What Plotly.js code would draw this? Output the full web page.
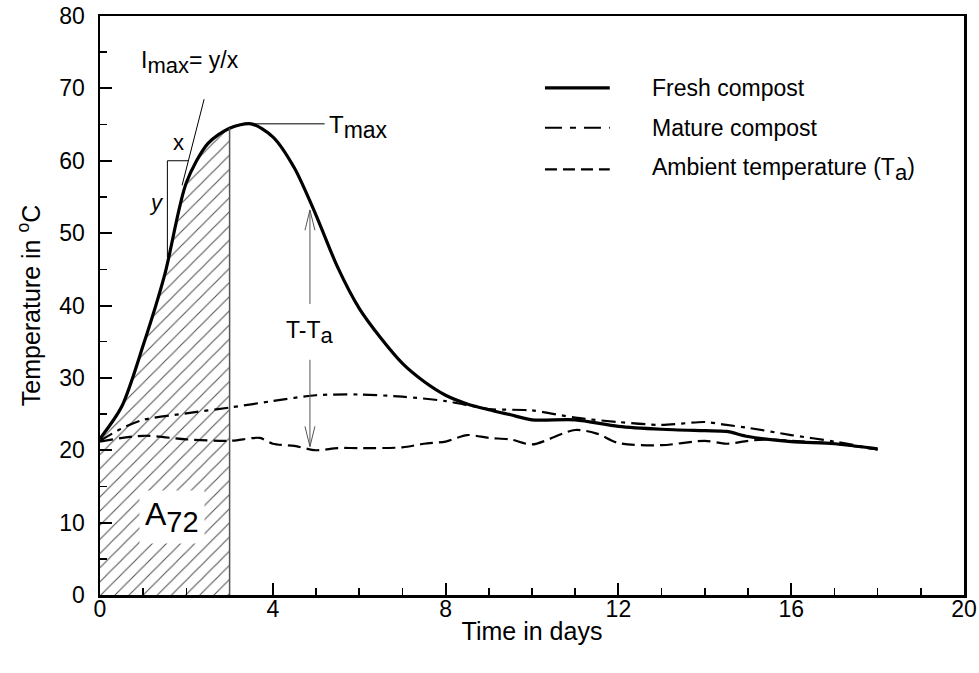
<!DOCTYPE html>
<html>
<head>
<meta charset="utf-8">
<script src="https://cdn.plot.ly/plotly-3.0.1.min.js"></script>
<style>html,body{margin:0;padding:0;background:#fff;}#chart{width:979px;height:673px;}</style>
</head>
<body>
<div id="chart"></div>
<script>
// Fresh compost
const daysFresh = [0,0.5,1,1.5,2,2.5,3,3.5,4,4.5,5,5.5,6,6.5,7,7.5,8,8.5,9,9.5,10,11,12,13,14,14.5,15,16,17,18];
const tempFresh = [21.6,26,34.5,44.3,57,62.4,64.5,65.1,63.3,59,52.5,45.3,39.6,35.5,32,29.5,27.6,26.4,25.6,24.9,24.2,24.2,23.3,22.9,22.7,22.6,21.9,21.2,20.9,20.2];
// Mature compost
const daysMature = [0,0.5,1,2,3,4,5,6,7,8,9,10,11,12,13,14,14.5,15,16,17,18];
const tempMature = [21.3,23,24.2,25.1,25.9,26.8,27.6,27.7,27.4,26.8,25.7,25.5,24.5,23.9,23.5,23.9,23.5,23.1,22.1,21.2,20.1];
// Ambient temperature
const daysAmbient = [0,1,2,3,3.7,4,4.5,5,5.5,6,7,7.5,8,8.5,9,9.5,10,11,11.5,12,13,14,14.5,15,15.5,16,17,18];
const tempAmbient = [21.2,22.0,21.5,21.3,21.7,20.9,20.6,20.0,20.3,20.3,20.4,20.9,21.2,22.1,21.7,21.5,20.8,22.8,22.3,21.0,20.7,21.3,20.9,21.3,21.5,21.3,20.9,20.1];

const sub = (t, px) => '<sub><span style="font-size:' + px + 'px">' + t + '</span></sub>';
const seriesNames = ['Fresh compost','Mature compost','Ambient temperature (T' + sub('a', 22) + ')'];
const xTickVals = [0,4,8,12,16,20];
const yTickVals = [0,10,20,30,40,50,60,70,80];

const areaEnd = 3; // A72 integration limit (days)
const areaX = [], areaY = [];
daysFresh.forEach((d,i)=>{ if (d <= areaEnd) { areaX.push(d); areaY.push(tempFresh[i]); } });
const tAtEnd = areaY[areaY.length-1];
const iMax = tempFresh.indexOf(Math.max(...tempFresh));
const tMax = tempFresh[iMax], dMax = daysFresh[iMax];

const FONT = 'Liberation Sans, Arial, sans-serif';

const traces = [
  {x: areaX, y: areaY, type:'scatter', mode:'lines', fill:'tozeroy',
   line:{width:0, shape:'spline', color:'rgba(0,0,0,0)'},
   fillcolor:'white',
   fillpattern:{shape:'/', fgcolor:'#555', bgcolor:'white', size:10, solidity:0.11},
   hoverinfo:'skip', showlegend:false},
  {x: daysMature, y: tempMature, type:'scatter', mode:'lines', name: seriesNames[1],
   line:{color:'black', width:2.2, dash:'14px,6px,4px,6px', shape:'spline', smoothing:0.8}, showlegend:false},
  {x: daysAmbient, y: tempAmbient, type:'scatter', mode:'lines', name: seriesNames[2],
   line:{color:'black', width:2.2, dash:'13px,6px', shape:'spline', smoothing:0.8}, showlegend:false},
  {x: daysFresh, y: tempFresh, type:'scatter', mode:'lines', name: seriesNames[0],
   line:{color:'black', width:3.2, shape:'spline', smoothing:0.8}, showlegend:false}
];

const gray = '#555';
const shapes = [
  {type:'line', xref:'x', yref:'y', x0:areaEnd, x1:areaEnd, y0:0, y1:tAtEnd, line:{color:gray, width:1.5}},
  {type:'line', xref:'x', yref:'y', x0:dMax, x1:5.2, y0:tMax, y1:tMax, line:{color:'black', width:1}},
  {type:'line', xref:'x', yref:'y', x0:1.9, x1:2.41, y0:56.6, y1:68.5, line:{color:'black', width:1}},
  {type:'path', xref:'x', yref:'y', path:'M1.56,46.7 L1.56,60 L2.04,60', line:{color:'black', width:1}},
  {type:'line', xref:'x', yref:'y', x0:4.86, x1:4.86, y0:40.2, y1:53.2, line:{color:gray, width:1}},
  {type:'path', xref:'x', yref:'y', path:'M4.745,50.4 L4.86,53.2 L4.975,50.4', line:{color:gray, width:1}},
  {type:'line', xref:'x', yref:'y', x0:4.86, x1:4.86, y0:32.5, y1:20.5, line:{color:gray, width:1}},
  {type:'path', xref:'x', yref:'y', path:'M4.745,23.3 L4.86,20.5 L4.975,23.3', line:{color:gray, width:1}},
  {type:'line', xref:'paper', yref:'paper', x0:0.515, x1:0.59, y0:0.876, y1:0.876, line:{color:'black', width:3.2}},
  {type:'line', xref:'paper', yref:'paper', x0:0.515, x1:0.59, y0:0.807, y1:0.807, line:{color:'black', width:2.2, dash:'17px,8px,6px,8px'}},
  {type:'line', xref:'paper', yref:'paper', x0:0.515, x1:0.59, y0:0.735, y1:0.735, line:{color:'black', width:2.2, dash:'12px,6px'}}
];

const annFont = {family: FONT, size: 22, color:'black'};
const legFont = {family: FONT, size: 23, color:'black'};
const annotations = [
  {x:1.67, y:10.8, xref:'x', yref:'y', text:'A' + sub('72', 29), showarrow:false, bgcolor:'white',
   font:{family:FONT, size:32, color:'black'}, borderpad:5},
  {x:1.82, y:62.5, xref:'x', yref:'y', text:'x', showarrow:false, font:annFont},
  {x:1.31, y:54.2, xref:'x', yref:'y', text:'<i>y</i>', showarrow:false, font:annFont},
  {x:0.9, y:73.6, xref:'x', yref:'y', text:'I' + sub('max', 22) + '= y/x', showarrow:false, xanchor:'left', yanchor:'middle', font:{family:FONT, size:23, color:'black'}},
  {x:5.25, y:64.6, xref:'x', yref:'y', text:'T' + sub('max', 23), showarrow:false, xanchor:'left', yanchor:'middle', font:{family:FONT, size:24, color:'black'}},
  {x:4.86, y:36.3, xref:'x', yref:'y', text:'T-T' + sub('a', 22), showarrow:false, yanchor:'middle', font:{family:FONT, size:23, color:'black'}},
  {x:0.637, y:0.876, xref:'paper', yref:'paper', text:seriesNames[0], showarrow:false, xanchor:'left', yanchor:'middle', font:legFont},
  {x:0.637, y:0.807, xref:'paper', yref:'paper', text:seriesNames[1], showarrow:false, xanchor:'left', yanchor:'middle', font:legFont},
  {x:0.637, y:0.735, xref:'paper', yref:'paper', text:seriesNames[2], showarrow:false, xanchor:'left', yanchor:'middle', font:legFont}
];

const layout = {
  width:979, height:673,
  margin:{l:100, r:15, t:16, b:78},
  paper_bgcolor:'white', plot_bgcolor:'white',
  font:{family:FONT, size:22, color:'black'},
  showlegend:false,
  xaxis:{range:[0,20], tickvals:xTickVals, ticktext:xTickVals.map(String),
    ticks:'inside', ticklen:12, tickwidth:2, tickcolor:'black',
    minor:{dtick:1, ticks:'inside', ticklen:7, tickwidth:1.5, tickcolor:'black'},
    showline:true, linewidth:2.5, linecolor:'black', mirror:true, showgrid:false, zeroline:false,
    tickfont:{family:FONT, size:23}, ticklabelstandoff:-8,
    title:{text:'Time in days', font:{family:FONT, size:25}, standoff:2}},
  yaxis:{range:[0,80], tickvals:yTickVals, ticktext:yTickVals.map(String),
    ticks:'inside', ticklen:12, tickwidth:2, tickcolor:'black',
    minor:{dtick:5, ticks:'inside', ticklen:7, tickwidth:1.5, tickcolor:'black'},
    showline:true, linewidth:2.5, linecolor:'black', mirror:true, showgrid:false, zeroline:false,
    tickfont:{family:FONT, size:23}, ticklabelstandoff:8,
    title:{text:'Temperature in <sup>o</sup>C', font:{family:FONT, size:25}, standoff:12}},
  shapes: shapes,
  annotations: annotations
};

Plotly.newPlot('chart', traces, layout, {staticPlot:true, displayModeBar:false});
</script>
</body>
</html>
